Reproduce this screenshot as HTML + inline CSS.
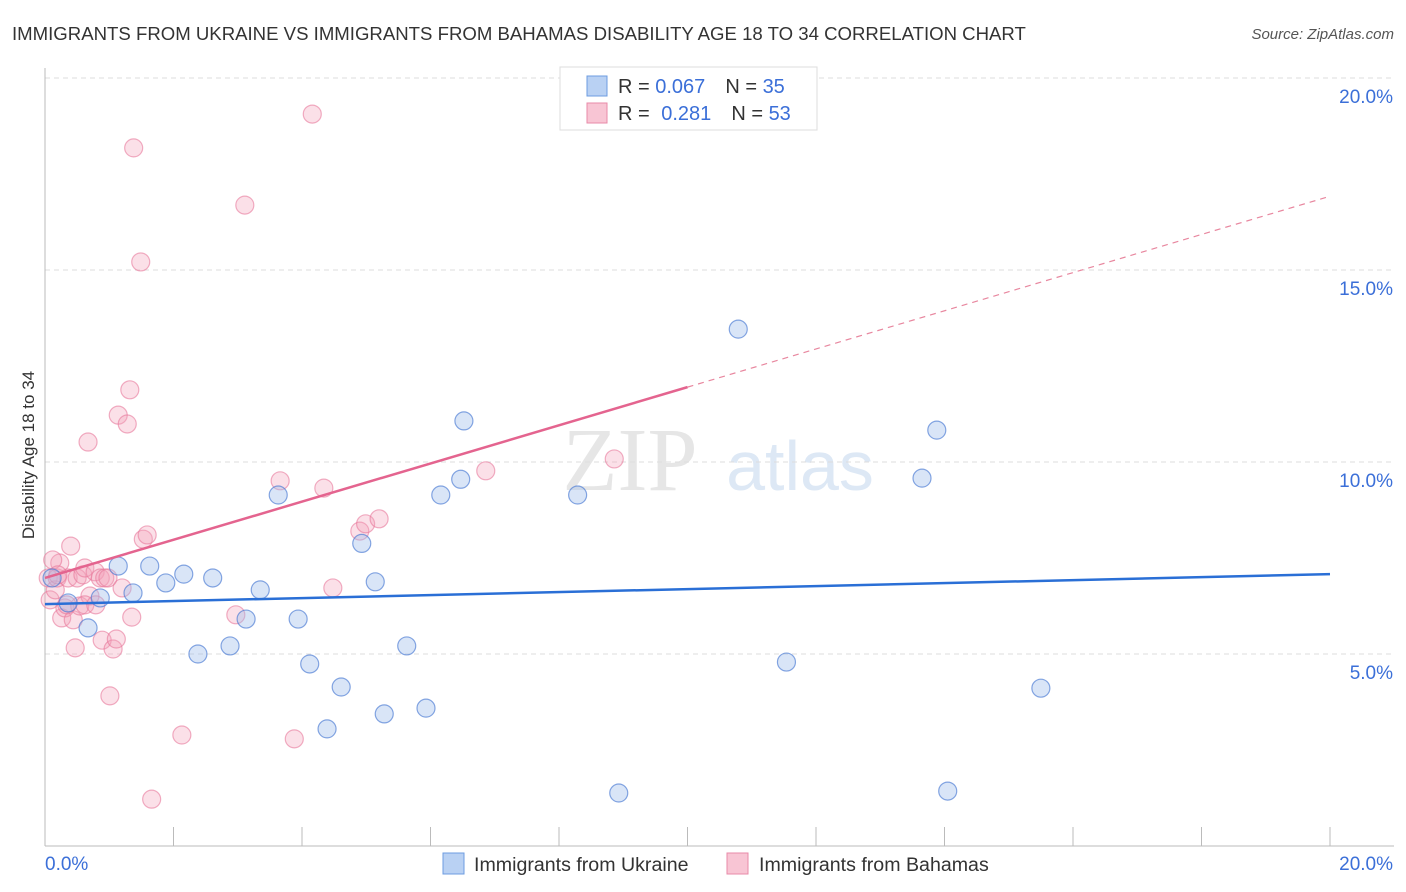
<!DOCTYPE html>
<html><head><meta charset="utf-8"><style>
body{margin:0;background:#fff;font-family:"Liberation Sans",sans-serif;}
#c{position:relative;width:1406px;height:892px;overflow:hidden}
</style></head><body><div id="c">
<svg id="s" width="1406" height="892" xmlns="http://www.w3.org/2000/svg">
<text x="12" y="40" font-size="18.6" fill="#333">IMMIGRANTS FROM UKRAINE VS IMMIGRANTS FROM BAHAMAS DISABILITY AGE 18 TO 34 CORRELATION CHART</text>
<text x="1394" y="39" font-size="15" fill="#555" text-anchor="end" font-style="italic">Source: ZipAtlas.com</text>
<text x="34" y="455" font-size="17" fill="#333" text-anchor="middle" transform="rotate(-90 34 455)">Disability Age 18 to 34</text>
<text x="630" y="490" font-size="90" fill="#e6e6e6" font-family="Liberation Serif" text-anchor="middle">ZIP</text>
<text x="800" y="490" font-size="70" fill="#dde8f5" text-anchor="middle">atlas</text>
<g id="grid"></g><g id="marks"></g>
</svg>
<script>
const xTicks=[0,2,4,6,8,10,12,14,16,18,20];
const yTicks=[5,10,15,20];
const yTickLabels=["5.0%","10.0%","15.0%","20.0%"];
const ukraineX=[0.11,0.36,0.67,0.86,1.14,1.37,1.63,1.88,2.16,2.38,2.61,2.88,3.13,3.35,3.63,3.94,4.12,4.39,4.61,4.93,5.14,5.28,5.63,5.93,6.16,6.47,6.52,8.29,8.93,10.79,11.54,13.65,13.88,14.05,15.50];
const ukraineY=[6.98,6.33,5.68,6.46,7.29,6.59,7.29,6.85,7.08,5.00,6.98,5.21,5.91,6.67,9.14,5.91,4.74,3.05,4.14,7.88,6.88,3.44,5.21,3.59,9.14,9.55,11.07,9.14,1.38,13.46,4.79,9.58,10.83,1.43,4.11];
const bahamasX=[0.05,0.08,0.16,0.19,0.23,0.26,0.31,0.36,0.40,0.44,0.47,0.50,0.54,0.59,0.62,0.67,0.70,0.78,0.86,0.89,0.93,1.01,1.06,1.11,1.14,1.20,1.28,1.32,1.35,1.38,1.49,1.53,1.59,1.66,2.13,2.97,3.11,3.66,3.88,4.16,4.34,4.48,4.90,4.99,5.20,6.86,8.86,0.12,0.34,0.62,0.20,0.79,0.98];
const bahamasY=[6.98,6.41,6.67,6.98,7.37,5.94,6.20,6.98,7.81,5.89,5.16,6.98,6.25,7.06,7.24,10.52,6.51,7.14,6.98,5.36,6.98,3.91,5.13,5.39,11.22,6.72,10.99,11.88,5.96,18.18,15.21,7.99,8.10,1.22,2.89,6.02,16.69,9.51,2.79,19.06,9.32,6.72,8.20,8.39,8.52,9.77,10.08,7.45,6.28,6.28,7.06,6.28,6.98];
const ukraineTrend=[6.30,7.08];
const bahamasTrend=[6.98,16.92];
const solidEnd=10;
const X0=45,X1=1330,Y0=846,Y1=78;
const xs=v=>X0+(v/20)*(X1-X0), ys=v=>Y0-(v/20)*(Y0-Y1);
const NS="http://www.w3.org/2000/svg";
const g=document.getElementById('grid'),m=document.getElementById('marks'),s=document.getElementById('s');
function mk(tag,at,p){const e=document.createElementNS(NS,tag);for(const k in at)e.setAttribute(k,at[k]);p.appendChild(e);return e;}
yTicks.forEach((t,i)=>{
 const l=mk('line',{x1:X0,x2:1394,y1:ys(t),y2:ys(t),stroke:'#ddd','stroke-dasharray':'5,4'},g);
 
 
 const tx=mk('text',{x:1393,y:ys(t)+25,'font-size':19,fill:'#3b6fd8','text-anchor':'end'},g);
 tx.textContent=yTickLabels[i];
 
 
});
const ax=mk('line',{x1:X0,x2:X0,y1:68,y2:Y0,stroke:'#bbb'},g);


const bx=mk('line',{x1:X0,x2:1394,y1:Y0,y2:Y0,stroke:'#bbb'},g);


xTicks.forEach(t=>{
 const l=mk('line',{x1:xs(t),x2:xs(t),y1:827,y2:Y0,stroke:'#bbb'},g);
 
 
});
[[0,'0.0%','start',45],[20,'20.0%','end',1393]].forEach(a=>{
 const tx=mk('text',{x:a[3],y:870,'font-size':19,fill:'#3b6fd8','text-anchor':a[2]},g);
 tx.textContent=a[1];
 
 
});
bahamasX.forEach((v,i)=>{
 const c=mk('circle',{cx:xs(v),cy:ys(bahamasY[i]),r:9,fill:'rgba(244,160,185,0.33)',stroke:'rgba(232,120,155,0.6)','stroke-width':1.2},m);
 
 
});
ukraineX.forEach((v,i)=>{
 const c=mk('circle',{cx:xs(v),cy:ys(ukraineY[i]),r:9,fill:'rgba(160,190,235,0.4)',stroke:'rgba(70,120,210,0.65)','stroke-width':1.2},m);
 
 
});
const bt=v=>bahamasTrend[0]+(bahamasTrend[1]-bahamasTrend[0])*v/20;
let l1=mk('line',{x1:xs(0),y1:ys(bahamasTrend[0]),x2:xs(solidEnd),y2:ys(bt(solidEnd)),stroke:'#e4648f','stroke-width':2.5},m);


let l2=mk('line',{x1:xs(solidEnd),y1:ys(bt(solidEnd)),x2:xs(20),y2:ys(bahamasTrend[1]),stroke:'#e8879f','stroke-width':1.2,'stroke-dasharray':'6,5'},m);


let l3=mk('line',{x1:xs(0),y1:ys(ukraineTrend[0]),x2:xs(20),y2:ys(ukraineTrend[1]),stroke:'#2a6fd6','stroke-width':2.5},m);


</script>
<svg width="1406" height="892" style="position:absolute;left:0;top:0">
<g>
<rect x="560" y="67" width="257" height="63" fill="#fff" stroke="#ddd"/>
<rect x="587" y="76" width="20" height="20" fill="#b9d1f3" stroke="#6d9ce0"/>
<rect x="587" y="103" width="20" height="20" fill="#f8c5d4" stroke="#e88aa8"/>
<text x="618" y="93" font-size="20" fill="#333">R = <tspan fill="#3b6fd8">0.067</tspan><tspan dx="20">N = </tspan><tspan fill="#3b6fd8">35</tspan></text>
<text x="618" y="120" font-size="20" fill="#333">R = <tspan fill="#3b6fd8" dx="6">0.281</tspan><tspan dx="20">N = </tspan><tspan fill="#3b6fd8">53</tspan></text>
</g>
<g>
<rect x="443" y="853" width="21" height="21" fill="#b9d1f3" stroke="#6d9ce0"/>
<text x="474" y="871" font-size="19.6" fill="#333">Immigrants from Ukraine</text>
<rect x="727" y="853" width="21" height="21" fill="#f8c5d4" stroke="#e88aa8"/>
<text x="759" y="871" font-size="19.6" fill="#333">Immigrants from Bahamas</text>
</g>
</svg>
</div></body></html>
